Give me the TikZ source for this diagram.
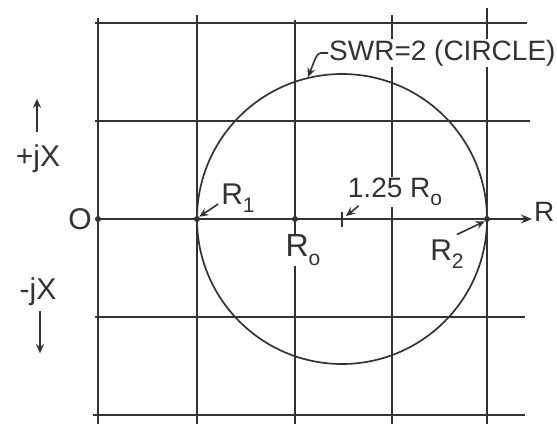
\documentclass[tikz,border=0pt]{standalone}
\usepackage{fontspec}
\setmainfont{Liberation Sans}
\usetikzlibrary{arrows.meta}
\newcommand\lsub[1]{\raisebox{-0.5ex}{\fontsize{21}{21}\selectfont #1}}
\definecolor{ink}{HTML}{333333}
\tikzset{
  gridline/.style={ink, line width=1.6pt},
  curve/.style={ink, line width=1.7pt},
  lbl/.style={text=ink, inner sep=1pt, font=\fontsize{30}{32}\selectfont},
  wlbl/.style={lbl, fill=white},
  ptr/.style={ink, line width=1.6pt, -{Stealth[length=9pt,width=8pt]}},
  dot/.style={circle, fill=ink, inner sep=0pt, minimum size=6pt},
}
\begin{document}
\begin{tikzpicture}[x=1pt,y=-1pt]
\useasboundingbox (0,0) rectangle (557,424);
% grid
\draw[gridline] (98,18) -- (98,424);
\draw[gridline] (197,15) -- (197,424);
\draw[gridline] (295,20) -- (295,424);
\draw[gridline] (392,15) -- (392,424);
\draw[gridline] (487,8) -- (487,424);
\draw[gridline] (95,23) -- (527,23);
\draw[gridline] (95,121) -- (530,121);
\draw[gridline] (95,317) -- (525,317);
\draw[gridline] (93,415) -- (525,415);
% axis
\node[dot] (o) at (98,219) {};
\node[dot] (r1) at (197,219) {};
\node[dot] (r0) at (295,219) {};
\node[dot] (r2) at (487,219) {};
\coordinate (axend) at (532,219);
\draw[gridline, -{Stealth[length=11pt,width=9pt]}] (o.center) -- (axend);
% circle
\draw[curve] (342,219) circle [radius=145];
% tick at 1.25 R0
\coordinate (tkt) at (342,212);
\coordinate (tkb) at (342,227);
\draw[gridline] (tkt) -- (tkb);
\coordinate (ctop) at (308,77);
% labels
\node[lbl] (lo) at (80,219) {O};
\node[lbl, anchor=west, inner sep=0pt, font=\fontsize{28}{30}\selectfont] (lr) at (534,212) {R};
\node[lbl] (l1) at (238,198) {R\lsub{1}};
\node[wlbl, font=\fontsize{32}{34}\selectfont] (l0) at (303,250) {R\lsub{o}};
\node[wlbl, font=\fontsize{28}{30}\selectfont] (l125) at (395,192) {1.25 R\lsub{o}};
\node[lbl] (l2) at (447,254) {R\lsub{2}};
\node[wlbl, anchor=west, font=\fontsize{28}{30}\selectfont] (swr) at (328,53) {SWR=2 (CIRCLE)};
\node[lbl] (pjx) at (38,159) {+jX};
\node[lbl] (mjx) at (38,292) {-jX};
% pointers
\draw[ptr] (l1.west) ++(-2,6) -- (r1.north east);
\draw[ptr] (l125.south west) ++(12,-1) -- (346,216);
\draw[ptr] (l2.north east) ++(-8,-4) -- (r2.south west);
\draw[ptr] (swr.west) -- ++(-7,0) .. controls ++(-4,1) .. (ctop);
\draw[ptr] (pjx.north) ++(-1,-12) -- ++(0,-33);
\draw[ptr] (mjx.south) ++(2,4) -- ++(0,42);
\end{tikzpicture}
\end{document}
